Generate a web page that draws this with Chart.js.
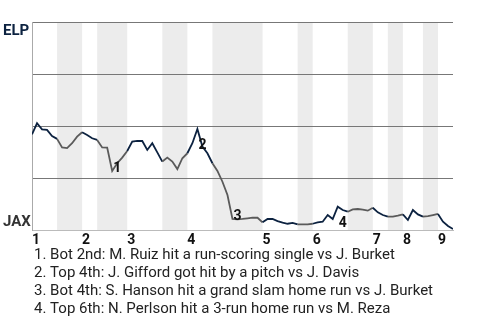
<!DOCTYPE html>
<html>
<head>
<meta charset="utf-8">
<script src="https://cdn.jsdelivr.net/npm/chart.js@4.4.0/dist/chart.umd.min.js"></script>
<style>
  html, body { margin: 0; padding: 0; background: #fff; }
  #wrap { width: 480px; height: 320px; }
</style>
</head>
<body>
<div id="wrap"><canvas id="wpChart" width="480" height="320"></canvas></div>
<script>
// ELP win probability (%) after each plate appearance
const winProb = [
  46.0, 51.3, 48.4, 48.1, 45.2, 43.8, 39.7, 39.4, 41.7, 44.9,
  47.0, 45.7, 44.1, 43.3, 39.7, 39.6, 28.4, 32.1, 34.8, 38.0,
  42.5, 42.8, 42.8, 38.5, 41.7, 37.3, 32.9, 34.8, 32.9, 29.3,
  34.5, 36.9, 41.7, 48.6, 40.1, 36.9, 32.1, 28.4, 23.2, 16.8,
  5.3, 5.1, 5.3, 5.6, 5.9, 5.9, 3.7, 5.3, 5.3, 4.3,
  3.5, 3.0, 3.4, 2.7, 2.7, 2.7, 3.0, 3.7, 4.0, 7.2,
  5.3, 11.2, 9.6, 8.8, 9.9, 10.1, 9.8, 9.3, 10.7, 8.5,
  7.2, 6.4, 6.4, 6.9, 7.5, 4.8, 9.6, 7.5, 6.4, 6.7,
  7.2, 7.7, 4.0, 1.9, 0.5
];

// plate appearance index where each inning starts
const inningLabels = ['1', '2', '3', '4', '5', '6', '7', '8', '9'];
const inningStart = [0, 10, 19, 31, 46, 56, 68, 74, 81];
// bottom halves [from, to]
const bottomHalves = [[5, 10], [13, 19], [26, 31], [36, 46], [53, 56], [63, 68], [71, 74], [78, 81]];

// key plays: index of the plate appearance after the play
const eventIndex = [16, 33, 40, 61];
const eventNotes = [
  '1. Bot 2nd: M. Ruiz hit a run-scoring single vs J. Burket',
  '2. Top 4th: J. Gifford got hit by a pitch vs J. Davis',
  '3. Bot 4th: S. Hanson hit a grand slam home run vs J. Burket',
  '4. Top 6th: N. Perlson hit a 3-run home run vs M. Reza'
];

const awayTeam = 'ELP';
const homeTeam = 'JAX';

const NAVY = '#0c2240';
const GREY = '#5a5a5a';

function inBottom(i) {
  return bottomHalves.some(b => i >= b[0] && i < b[1]);
}

const bandsPlugin = {
  id: 'bands',
  beforeDraw(chart) {
    const { ctx, chartArea, scales } = chart;
    ctx.save();
    ctx.fillStyle = '#ececec';
    bottomHalves.forEach(b => {
      const x0 = scales.x.getPixelForValue(b[0]);
      const x1 = scales.x.getPixelForValue(b[1]);
      ctx.fillRect(x0, chartArea.top, x1 - x0, chartArea.bottom - chartArea.top);
    });
    ctx.restore();
  }
};

const textPlugin = {
  id: 'texts',
  afterDraw(chart) {
    const { ctx, chartArea, scales } = chart;
    ctx.save();

    // team names
    ctx.font = 'bold 15px Roboto';
    ctx.textAlign = 'left';
    ctx.textBaseline = 'alphabetic';
    ctx.fillStyle = NAVY;
    ctx.fillText(awayTeam, 3, chartArea.top + 12.5);
    ctx.fillStyle = '#333';
    ctx.fillText(homeTeam, 3, chartArea.bottom - 4);

    // event markers on the line
    ctx.font = 'bold 14px Roboto';
    ctx.fillStyle = '#111';
    eventIndex.forEach((idx, k) => {
      const x = scales.x.getPixelForValue(idx);
      const y = scales.y.getPixelForValue(winProb[idx]);
      const rose = winProb[idx] > winProb[idx - 1];
      ctx.fillText(String(k + 1), x + 1, rose ? y + 20 : y + 1);
    });

    // notes under the chart
    ctx.font = '15px Roboto';
    ctx.fillStyle = '#222';
    eventNotes.forEach((t, k) => {
      ctx.fillText(t, 34, 259 + k * 18);
    });
    ctx.restore();
  }
};

const ctx = document.getElementById('wpChart').getContext('2d');
const chart = new Chart(ctx, {
  type: 'line',
  data: {
    datasets: [{
      data: winProb.map((v, i) => ({ x: i, y: v })),
      borderWidth: 1.8,
      borderColor: NAVY,
      pointRadius: 0,
      tension: 0,
      segment: {
        borderColor: c => inBottom(c.p0DataIndex) ? GREY : NAVY
      }
    }]
  },
  options: {
    responsive: false,
    animation: false,
    layout: { padding: { left: 32, top: 22, right: 27, bottom: 0 } },
    plugins: {
      legend: { display: false },
      tooltip: { enabled: false }
    },
    scales: {
      x: {
        type: 'linear',
        min: 0,
        max: winProb.length - 1,
        afterBuildTicks: scale => {
          scale.ticks = inningStart.map(v => ({ value: v }));
        },
        afterFit: scale => { scale.height = 90; },
        grid: { display: false, drawTicks: false },
        border: { display: true, color: '#bbbbbb', width: 1 },
        ticks: {
          autoSkip: false,
          maxRotation: 0,
          align: 'start',
          padding: 2,
          color: '#111',
          font: { family: 'Roboto', size: 14, weight: 'bold' },
          callback: v => inningLabels[inningStart.indexOf(v)]
        }
      },
      y: {
        min: 0,
        max: 100,
        afterFit: scale => { scale.width = 0; },
        ticks: { display: false, stepSize: 25 },
        grid: {
          drawTicks: false,
          color: c => c.tick.value === 0 ? 'rgba(0,0,0,0)' : '#777777',
          lineWidth: 1
        },
        border: { display: true, color: '#aaaaaa', width: 1 }
      }
    }
  },
  plugins: [bandsPlugin, textPlugin]
});
</script>
</body>
</html>
